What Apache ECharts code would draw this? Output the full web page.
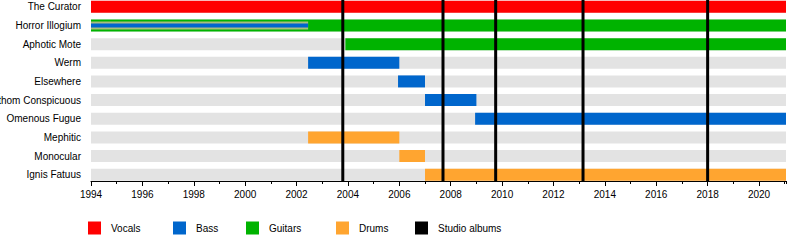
<!DOCTYPE html>
<html><head><meta charset="utf-8">
<script src="https://cdn.jsdelivr.net/npm/echarts@6/dist/echarts.min.js"></script>
<style>html,body{margin:0;padding:0;background:#fff}#c{width:800px;height:240px}</style>
</head><body><div id="c"></div>
<script>
const START = 1994;
const END = 2021.05;
const members = ['The Curator','Horror Illogium','Aphotic Mote','Werm','Elsewhere','Phathom Conspicuous','Omenous Fugue','Mephitic','Monocular','Ignis Fatuus'];
const vocals = [['The Curator', 1994, END]];
const bass = [['Horror Illogium', 1994, 2002.45], ['Werm', 2002.45, 2006.0], ['Elsewhere', 2005.95, 2007.0], ['Phathom Conspicuous', 2007.0, 2009.0], ['Omenous Fugue', 2008.95, END]];
const guitars = [['Horror Illogium', 1994, END], ['Aphotic Mote', 2003.9, END]];
const drums = [['Mephitic', 2002.45, 2006.0], ['Monocular', 2006.0, 2007.0], ['Ignis Fatuus', 2007.0, END]];
const albums = [2003.8, 2007.7, 2009.75, 2013.15, 2018.0];
const legendNames = ['Vocals', 'Bass', 'Guitars', 'Drums', 'Studio albums'];

const COLORS = {Vocals:'#ff0000', Bass:'#0066cc', Guitars:'#00b300', Drums:'#ffa530', 'Studio albums':'#000000'};
const BAR_H = 12;

function toData(arr){ return arr.map(d => [d[1], d[2], d[0]]); }
function overlapsGuitar(name, s, e){
  return guitars.some(g => g[0] === name && g[1] < e && g[2] > s);
}
function barRender(color, isBass){
  return function(params, api){
    const s = api.value(0), e = api.value(1), row = api.value(2);
    const p0 = api.coord([s, row]), p1 = api.coord([e, row]);
    const w = p1[0] - p0[0];
    const name = members[row];
    if (isBass && overlapsGuitar(name, s, e)) {
      return {type:'group', children:[
        {type:'rect', shape:{x:p0[0], y:p0[1]-4, width:w, height:8}, style:{fill:'#a9bc7c'}},
        {type:'rect', shape:{x:p0[0], y:p0[1]-2, width:w, height:4}, style:{fill:color}}
      ]};
    }
    return {type:'rect', shape:{x:p0[0], y:p0[1]-BAR_H/2, width:w, height:BAR_H}, style:{fill:color}};
  };
}

const chart = echarts.init(document.getElementById('c'), null, {renderer:'svg'});
const FONT = 'Liberation Sans, Arial, sans-serif';
const legendLefts = [88, 173, 246, 336, 415];

chart.setOption({
  animation:false,
  grid:[
    {left:91, top:0, width:695, height:181, containLabel:false, outerBoundsMode:'none'},
    {left:91, top:-2.5, width:695, height:186.5, containLabel:false, outerBoundsMode:'none'}
  ],
  xAxis:[
    {gridIndex:0, type:'value', min:START, max:END, interval:2, position:'bottom',
     axisLine:{show:true, lineStyle:{color:'#000', width:1}},
     axisTick:{show:true, length:5, lineStyle:{color:'#000'}},
     axisLabel:{show:true, color:'#000', fontSize:10, fontFamily:FONT, margin:8, showMaxLabel:false, formatter:v => String(v)},
     splitLine:{show:false}},
    {gridIndex:1, type:'value', min:START, max:END, show:false},
    {gridIndex:0, type:'value', min:START, max:END, interval:1, position:'bottom', offset:0,
     axisLine:{show:false}, axisTick:{show:true, length:3, lineStyle:{color:'#000'}},
     axisLabel:{show:false}, splitLine:{show:false}}
  ],
  yAxis:[
    {gridIndex:0, type:'value', min:0, max:1, show:false},
    {gridIndex:1, type:'category', data:members, inverse:true,
     axisLine:{show:false}, axisTick:{show:false}, splitLine:{show:false},
     axisLabel:{color:'#000', fontSize:10, fontFamily:FONT, margin:10}}
  ],
  legend: legendNames.map((n, i) => ({
    data:[n], left:legendLefts[i], top:221.5, padding:0, itemWidth:13, itemHeight:13, icon:'rect',
    selectedMode:false, textStyle:{color:'#000', fontSize:10, fontFamily:FONT, padding:[0,0,0,5]}
  })),
  series:[
    {type:'custom', name:'bg', xAxisIndex:1, yAxisIndex:1, renderItem:barRender('#e3e3e3', false),
     encode:{x:[0,1], y:2}, data: members.map(m => [START, END, m]), z:1, silent:true},
    {type:'custom', name:'Guitars', xAxisIndex:1, yAxisIndex:1, itemStyle:{color:COLORS.Guitars}, renderItem:barRender(COLORS.Guitars, false),
     encode:{x:[0,1], y:2}, data: toData(guitars), z:2},
    {type:'custom', name:'Vocals', xAxisIndex:1, yAxisIndex:1, itemStyle:{color:COLORS.Vocals}, renderItem:barRender(COLORS.Vocals, false),
     encode:{x:[0,1], y:2}, data: toData(vocals), z:3},
    {type:'custom', name:'Bass', xAxisIndex:1, yAxisIndex:1, itemStyle:{color:COLORS.Bass}, renderItem:barRender(COLORS.Bass, true),
     encode:{x:[0,1], y:2}, data: toData(bass), z:4},
    {type:'custom', name:'Drums', xAxisIndex:1, yAxisIndex:1, itemStyle:{color:COLORS.Drums}, renderItem:barRender(COLORS.Drums, false),
     encode:{x:[0,1], y:2}, data: toData(drums), z:4},
    {type:'custom', name:'Studio albums', xAxisIndex:0, yAxisIndex:0, itemStyle:{color:'#000'},
     encode:{x:0}, data: albums.map(a => [a]), z:10,
     renderItem:function(params, api){
       const x = api.value(0);
       const a = api.coord([x, 0]), b = api.coord([x, 1]);
       return {type:'line', shape:{x1:a[0], y1:a[1], x2:b[0], y2:b[1]}, style:{stroke:'#000', lineWidth:3}};
     }}
  ]
});
</script></body></html>
